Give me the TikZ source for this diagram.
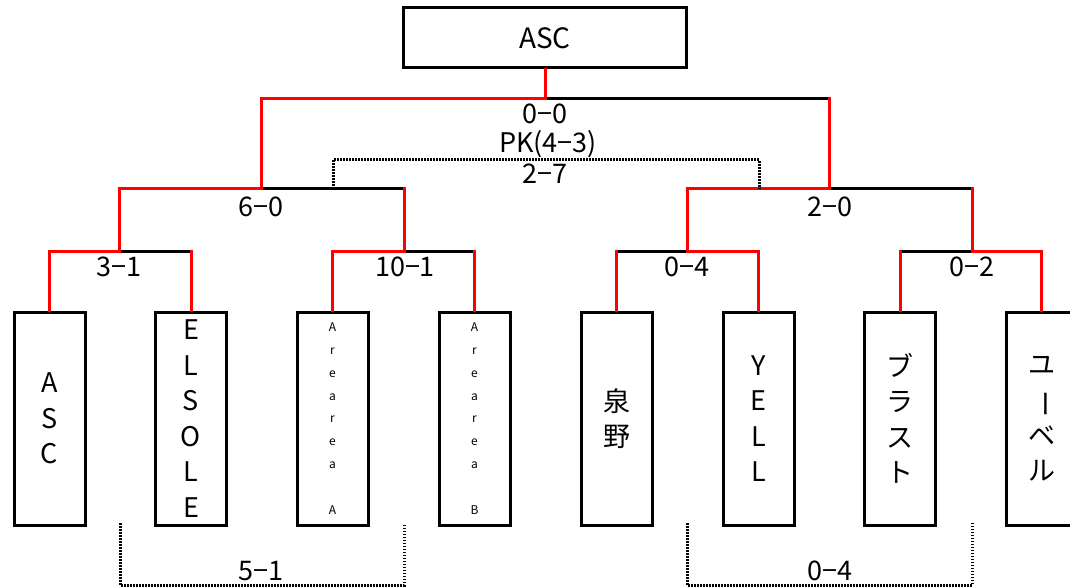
\documentclass[tikz,border=0pt]{standalone}
\usepackage{fontspec}
\setmainfont{Noto Sans CJK JP}
\begin{document}
\begin{tikzpicture}[x=1pt,y=-1pt,
  win/.style={draw=red,line width=3pt,line cap=rect},
  lose/.style={draw=black,line width=3pt,line cap=rect},
  dotline/.style={draw=black,line width=3pt,dash pattern=on 1.5pt off 1.5pt},
  team/.style={draw=black,line width=3pt,minimum width=71pt,minimum height=213pt,inner sep=0pt,align=center,font=\fontsize{27}{35.5}\selectfont},
  smallteam/.style={team,font=\fontsize{12}{22.8}\selectfont},
  score/.style={inner sep=0pt,font=\fontsize{27}{30}\selectfont}]
\useasboundingbox (0,0) rectangle (1070,588);
\clip (0,0) rectangle (1070,588);
% final
\node[draw=black,line width=3pt,minimum width=283pt,minimum height=60pt,inner sep=0pt,font=\fontsize{28}{30}\selectfont] (champ) at (545,38) {ASC};
% teams
\node[team] (t1) at (49.5,418.5) {A\\S\\C};
\node[team] (t2) at (191,418.5) {E\\L\\S\\O\\L\\E};
\node[smallteam] (t3) at (332.5,418.5) {A\\r\\e\\a\\r\\e\\a\\\mbox{}\\A};
\node[smallteam] (t4) at (474.5,418.5) {A\\r\\e\\a\\r\\e\\a\\\mbox{}\\B};
\node[team] (t5) at (616.5,418.5) {泉\\野};
\node[team] (t6) at (758.5,418.5) {Y\\E\\L\\L};
\node[team] (t7) at (900,418.5) {ブ\\ラ\\ス\\ト};
\node[team] (t8) at (1041.5,418.5) {ユ\\\rotatebox[origin=c]{-90}{ー}\\ベ\\ル};
% junctions
\coordinate (m1) at (119,251);
\coordinate (m2) at (404,251);
\coordinate (m3) at (687,251);
\coordinate (m4) at (972,251);
\coordinate (n1) at (261,189);
\coordinate (n2) at (829,189);
\coordinate (top) at (545,99);
% black (losing) segments
\draw[lose] (m1) -- (m1 -| t2.north);
\draw[lose] (m2) -- (m2 -| t4.north);
\draw[lose] (t5.north |- m3) -- (m3);
\draw[lose] (t7.north |- m4) -- (m4);
\draw[lose] (n1) -- (n1 -| m2);
\draw[lose] (n2) -- (n2 -| m4);
\draw[lose] (top) -- (top -| n2);
% red (winning) segments
\draw[win] (t1.north) |- (m1);
\draw[win] (m1 -| t2.north) -- (t2.north);
\draw[win] (t3.north) |- (m2);
\draw[win] (m2 -| t4.north) -- (t4.north);
\draw[win] (t5.north) -- (t5.north |- m3);
\draw[win] (m3) -| (t6.north);
\draw[win] (t7.north) -- (t7.north |- m4);
\draw[win] (m4) -| (t8.north);
\draw[win] (m1) |- (n1);
\draw[win] (n1 -| m2) -- (m2);
\draw[win] (m3) |- (n2);
\draw[win] (n2 -| m4) -- (m4);
\draw[win] (champ.south) -- (top);
\draw[win] (top) -| (n1);
\draw[win] (top -| n2) -- (n2);
% dotted brackets
\coordinate (d1) at (333,189);
\coordinate (d2) at (759,189);
\draw[dotline] (d1) -- ++(0,-29) -| (d2);
\coordinate (b1) at (120,523);
\coordinate (b2) at (404,523);
\coordinate (b3) at (687,523);
\coordinate (b4) at (972,523);
\draw[dotline] (b1) -- ++(0,62) -| (b2);
\draw[dotline] (b3) -- ++(0,62) -| (b4);
% scores
\node[score] (s1) at (119,267) {3−1};
\node[score] (s2) at (405,267) {10−1};
\node[score] (s3) at (687,267) {0−4};
\node[score] (s4) at (972,267) {0−2};
\node[score] (s5) at (261,207) {6−0};
\node[score] (s6) at (830,207) {2−0};
\node[score] (s7) at (545,114) {0−0};
\node[score] (s8) at (548,144) {PK(4−3)};
\node[score] (s9) at (545,174) {2−7};
\node[score] (s10) at (261,571) {5−1};
\node[score] (s11) at (830,571) {0−4};
\end{tikzpicture}
\end{document}
